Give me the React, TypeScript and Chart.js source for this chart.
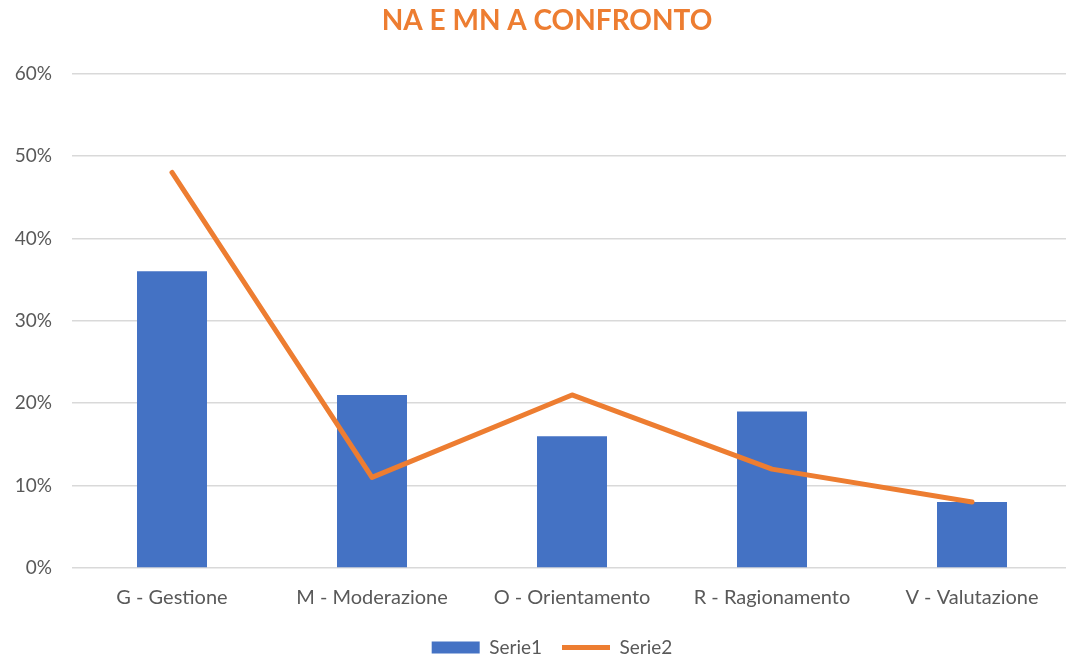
import React, { useEffect, useRef } from "react";
import { Chart, registerables } from "chart.js";

Chart.register(...registerables);

const categories = ["G - Gestione", "M - Moderazione", "O - Orientamento", "R - Ragionamento", "V - Valutazione"];
const serie1 = [36, 21, 16, 19, 8];
const serie2 = [48, 11, 21, 12, 8];
const titleText = "NA E MN A CONFRONTO";

const FONT = "Lato, 'Open Sans', sans-serif";
const GRAY = "#595959";

const shiftBlocks = {
  id: "shiftBlocks",
  afterLayout(chart: any) {
    if (chart.titleBlock) chart.titleBlock.left = 22;
    if (chart.legend) chart.legend.left = 32;
  },
};

export default function App() {
  const ref = useRef<HTMLCanvasElement | null>(null);
  useEffect(() => {
    if (!ref.current) return;
    const chart = new Chart(ref.current, {
      type: "bar",
      plugins: [shiftBlocks],
      data: {
        labels: categories,
        datasets: [
          {
            type: "line",
            label: "Serie2",
            data: serie2,
            borderColor: "#ED7D31",
            backgroundColor: "#ED7D31",
            borderWidth: 5,
            pointRadius: 0,
            pointHoverRadius: 0,
            borderCapStyle: "round",
            borderJoinStyle: "round",
            tension: 0,
            pointStyle: "line",
            order: 1,
          } as any,
          {
            type: "bar",
            label: "Serie1",
            data: serie1,
            backgroundColor: "#4472C4",
            borderWidth: 0,
            barPercentage: 1,
            categoryPercentage: 0.35,
            pointStyle: "rect",
            order: 2,
          } as any,
        ],
      },
      options: {
        animation: false,
        responsive: true,
        maintainAspectRatio: false,
        layout: { padding: { left: 0, right: 0, top: 4, bottom: 0 } },
        plugins: {
          title: {
            display: true,
            text: titleText,
            color: "#ED7D31",
            font: { family: FONT, size: 28, weight: "bold" },
            padding: { top: 0, bottom: 36 },
          },
          legend: {
            display: true,
            position: "bottom",
            reverse: true,
            labels: {
              usePointStyle: true,
              pointStyleWidth: 48,
              boxHeight: 12,
              color: GRAY,
              font: { family: FONT, size: 19 },
              padding: 20,
            },
          },
          tooltip: { enabled: false },
        },
        scales: {
          x: {
            grid: { display: false },
            border: { display: false },
            afterFit: (axis: any) => {
              axis.height = 50;
            },
            ticks: { color: GRAY, font: { family: FONT, size: 20 }, padding: 10 },
          },
          y: {
            min: 0,
            max: 60,
            grid: { color: "#d9d9d9", lineWidth: 1.5, drawTicks: false },
            border: { display: false },
            afterFit: (axis: any) => {
              axis.width = 72;
            },
            ticks: {
              stepSize: 10,
              color: GRAY,
              font: { family: FONT, size: 19 },
              padding: 20,
              callback: (v: any) => v + "%",
            },
          },
        },
      },
    });
    return () => chart.destroy();
  }, []);
  return (
    <div style={{ position: "fixed", left: 0, top: 0, width: 1072, height: 657, overflow: "hidden", background: "#fff" }}>
      <div style={{ position: "relative", width: 1072, height: 667 }}>
        <canvas ref={ref} />
      </div>
    </div>
  );
}
